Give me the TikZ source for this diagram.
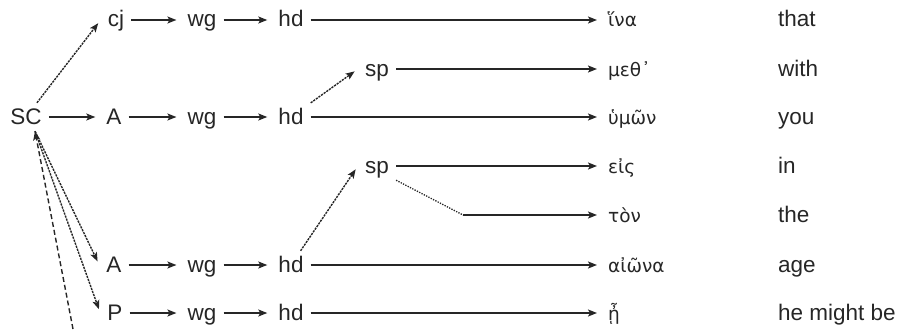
\documentclass[tikz,border=0pt]{standalone}
\usepackage{fontspec}
\setmainfont{Liberation Sans}
\newfontfamily\greekfont{DejaVu Sans}
\usetikzlibrary{arrows.meta}
\definecolor{ink}{HTML}{262626}
\tikzset{
  lbl/.style={inner sep=7pt, text height=14pt, text depth=0pt, text=ink, font=\fontsize{22.5}{27}\selectfont},
  grk/.style={inner sep=7pt, text height=14pt, text depth=0pt, anchor=west, text=ink, font=\greekfont\fontsize{18.5}{22}\selectfont},
  eng/.style={inner sep=0pt, text height=14pt, text depth=0pt, anchor=west, text=ink, font=\fontsize{22.5}{27}\selectfont},
  arr/.style={draw=ink, line width=1.4pt, -{Stealth[length=9pt,width=7pt,inset=2pt]}, shorten >=4pt},
  dasharr/.style={arr, dash pattern=on 2.2pt off 1pt},
  longdash/.style={draw=ink, line width=1.4pt, dash pattern=on 5pt off 3pt, -{Stealth[length=9pt,width=7pt,inset=2pt]}},
  dotline/.style={draw=ink, line width=1.3pt, dash pattern=on 1.3pt off 1.3pt},
  boldarr/.style={arr, line width=2.2pt}
}
\begin{document}
\begin{tikzpicture}[x=1pt,y=-1pt]
\useasboundingbox (0,0) rectangle (904,329);
% rows: 20, 69, 117, 166, 215, 265, 313
\node[lbl] (SC) at (26,117) {SC};
\node[lbl] (cj) at (116,20) {cj};
\node[lbl] (wg1) at (202,20) {wg};
\node[lbl] (hd1) at (291,20) {hd};
\node[lbl] (A1) at (114,117) {A};
\node[lbl] (wg2) at (202,117) {wg};
\node[lbl] (hd2) at (291,117) {hd};
\node[lbl] (sp1) at (377,69) {sp};
\node[lbl] (sp2) at (377,166) {sp};
\node[lbl] (A2) at (114,265) {A};
\node[lbl] (wg3) at (202,265) {wg};
\node[lbl] (hd3) at (291,265) {hd};
\node[lbl] (P) at (115,313) {P};
\node[lbl] (wg4) at (202,313) {wg};
\node[lbl] (hd4) at (291,313) {hd};
% Greek
\node[grk] (g1) at (601,20) {ἵνα};
\node[grk] (g2) at (601,69) {μεθ᾽};
\node[grk] (g3) at (601,117) {ὑμῶν};
\node[grk] (g4) at (601,166) {εἰς};
\node[grk] (g5) at (601,215) {τὸν};
\node[grk] (g6) at (601,265) {αἰῶνα};
\node[grk] (g7) at (601,313) {ᾖ};
% English
\node[eng] (e1) at (778,20) {that};
\node[eng] (e2) at (778,69) {with};
\node[eng] (e3) at (778,117) {you};
\node[eng] (e4) at (778,166) {in};
\node[eng] (e5) at (778,215) {the};
\node[eng] (e6) at (778,265) {age};
\node[eng] (e7) at (778,313) {he might be};
% coordinates
\coordinate (SCb) at ([xshift=9pt]SC.south);
\coordinate (low) at (73,329);
\coordinate (bend) at (463,215);
% connectors
\draw[dasharr] (SC) -- (cj.west);
\draw[arr] (cj) -- (wg1);
\draw[arr] (wg1) -- (hd1);
\draw[arr] (hd1) -- (g1.west);
\draw[arr] (SC) -- (A1);
\draw[arr] (A1) -- (wg2);
\draw[arr] (wg2) -- (hd2);
\draw[arr] (hd2) -- (g3.west);
\draw[dasharr] (hd2) -- (sp1.west);
\draw[boldarr] (sp1) -- (g2.west);
\draw[arr] (sp2) -- (g4.west);
\draw[dotline] (sp2.south east) -- (bend);
\draw[arr] (bend) -- (g5.west);
\draw[dasharr] (hd3) -- (sp2.west);
\draw[dasharr] (SCb) -- (A2.west);
\draw[dasharr] (SCb) -- (P.west);
\draw[longdash] (low) -- (SCb);
\draw[arr] (A2) -- (wg3);
\draw[arr] (wg3) -- (hd3);
\draw[arr] (hd3) -- (g6.west);
\draw[arr] (P) -- (wg4);
\draw[arr] (wg4) -- (hd4);
\draw[arr] (hd4) -- (g7.west);
\end{tikzpicture}
\end{document}
